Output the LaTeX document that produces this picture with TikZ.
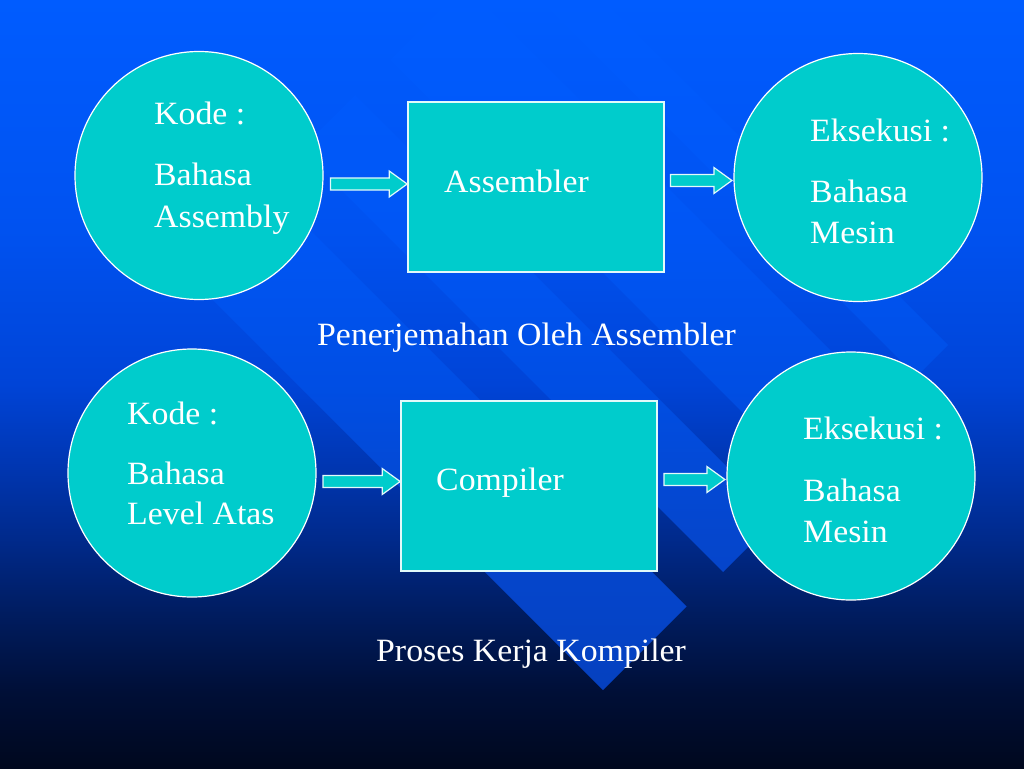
\documentclass[tikz,border=0pt]{standalone}
\usepackage{fontspec}
\setmainfont{Liberation Serif}[FakeStretch=1.04]
\usetikzlibrary{calc}
\definecolor{cy}{RGB}{0,204,204}
\definecolor{edge}{RGB}{225,250,250}
\definecolor{bg0}{RGB}{0,8,30}
\definecolor{bg1}{RGB}{0,15,55}
\definecolor{bg2}{RGB}{0,28,95}
\definecolor{bg3}{RGB}{0,42,140}
\definecolor{bg4}{RGB}{0,55,180}
\definecolor{bg5}{RGB}{0,68,215}
\definecolor{bg6}{RGB}{0,82,240}
\definecolor{bg7}{RGB}{0,92,255}
\definecolor{bd0}{RGB}{5,60,180}
\definecolor{bd1}{RGB}{5,64,190}
\definecolor{bd2}{RGB}{5,68,200}
\definecolor{bd3}{RGB}{5,70,205}
\definecolor{bd4}{RGB}{3,74,215}
\definecolor{bd5}{RGB}{0,78,228}
\definecolor{bd6}{RGB}{0,86,245}
\definecolor{bd7}{RGB}{0,92,255}
\pgfdeclareverticalshading{bgshade}{100bp}{color(0bp)=(bg0); color(25bp)=(bg0); color(30bp)=(bg1); color(35bp)=(bg2); color(40bp)=(bg3); color(45bp)=(bg4); color(50bp)=(bg5); color(60bp)=(bg6); color(75bp)=(bg7); color(100bp)=(bg7)}
\pgfdeclareverticalshading{bandshade}{100bp}{color(0bp)=(bd0); color(25bp)=(bd0); color(30bp)=(bd1); color(35bp)=(bd2); color(40bp)=(bd3); color(45bp)=(bd4); color(50bp)=(bd5); color(60bp)=(bd6); color(75bp)=(bd7); color(100bp)=(bd7)}
\newcommand{\blockarr}[2]{\draw[barrow] ($(#1)+(0,-6)$) -- ($(#2)+(-18,-6)$) -- ($(#2)+(-18,-13)$) -- (#2) -- ($(#2)+(-18,13)$) -- ($(#2)+(-18,6)$) -- ($(#1)+(0,6)$) -- cycle;}
\tikzset{
  circ/.style={circle, fill=cy, draw=white, line width=1.2pt, minimum size=248pt, inner sep=0pt},
  boxnode/.style={rectangle, fill=cy, draw=edge, line width=1.6pt, minimum width=256pt, minimum height=170pt, inner sep=0pt},
  barrow/.style={fill=cy, draw=edge, line width=1.2pt, line join=miter},
  txt/.style={text=white, font=\fontsize{32.5}{38}\selectfont, inner sep=0pt, anchor=base west}
}
\begin{document}
\begin{tikzpicture}[x=1pt,y=-1pt]
\useasboundingbox (0,0) rectangle (1024,768);
% background
\shade[shading=bgshade] (0,0) rectangle (1024,768);
\begin{scope}
\clip (106.5,193.5) -- (190,110) -- (686.5,606.5) -- (603,690) -- cycle
      (300.5,149.5) -- (355,95) -- (777.5,517.5) -- (723,572) -- cycle
      (390,60) -- (465,-15) -- (886.5,406.5) -- (811.5,481.5) -- cycle
      (495,-45) -- (526.5,-76.5) -- (948,345) -- (916.5,376.5) -- cycle;
\shade[shading=bandshade] (0,0) rectangle (1024,768);
\end{scope}
% shapes
\node[circ] (c1) at (199,175.5) {};
\node[boxnode] (box1) at (536,187) {};
\node[circ] (c2) at (858,177.5) {};
\node[circ] (c3) at (192,473) {};
\node[boxnode] (box2) at (529,486) {};
\node[circ] (c4) at (851,476) {};
% arrows
\coordinate (a1s) at (330.5,184);
\coordinate (a1e) at (a1s -| box1.west);
\coordinate (a2s) at (670.5,180.5);
\coordinate (a2e) at ($(a2s -| c2.west)+(-1.5,0)$);
\coordinate (a3s) at (323,481.5);
\coordinate (a3e) at (a3s -| box2.west);
\coordinate (a4s) at (664,479.5);
\coordinate (a4e) at ($(a4s -| c4.west)+(-1.5,0)$);
\blockarr{a1s}{a1e}
\blockarr{a2s}{a2e}
\blockarr{a3s}{a3e}
\blockarr{a4s}{a4e}
% texts
\node[txt] (t1a) at (154,124) {Kode :};
\node[txt] (t1b) at (154,185) {Bahasa};
\node[txt] (t1c) at (154,227) {Assembly};
\node[txt] (t2a) at (810,141) {Eksekusi :};
\node[txt] (t2b) at (810,202) {Bahasa};
\node[txt] (t2c) at (810,243) {Mesin};
\node[txt] (tb1) at (444,192) {Assembler};
\node[txt] (cap1) at (317,345) {Penerjemahan Oleh Assembler};
\node[txt] (t3a) at (127,424) {Kode :};
\node[txt] (t3b) at (127,484) {Bahasa};
\node[txt] (t3c) at (127,524.5) {Level Atas};
\node[txt] (t4a) at (803,439) {Eksekusi :};
\node[txt] (t4b) at (803,501) {Bahasa};
\node[txt] (t4c) at (803,542) {Mesin};
\node[txt] (tb2) at (436,490) {Compiler};
\node[txt] (cap2) at (376,661) {Proses Kerja Kompiler};
\end{tikzpicture}
\end{document}
